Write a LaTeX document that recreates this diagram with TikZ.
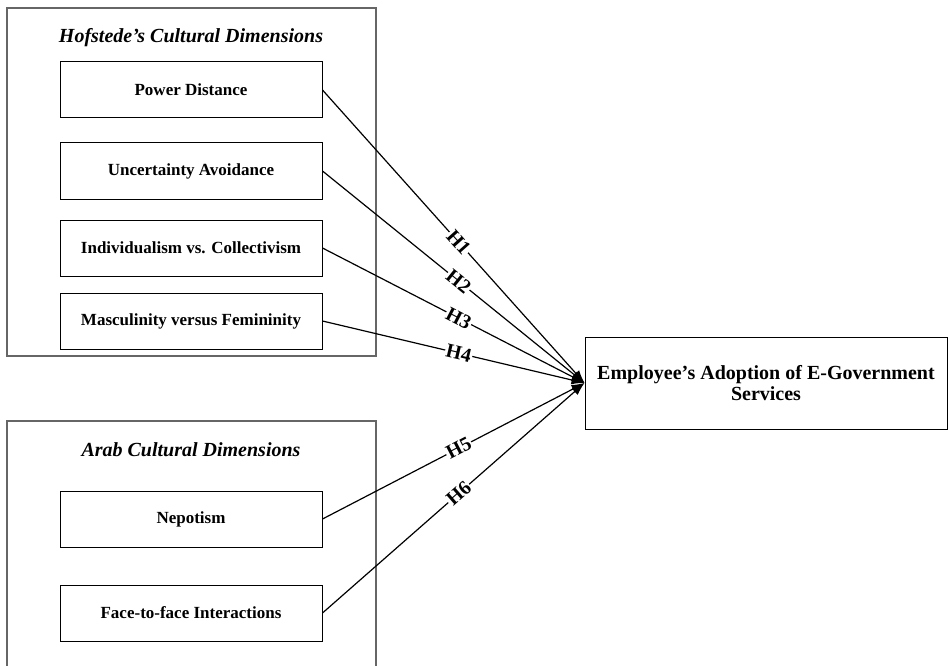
\documentclass[tikz,border=0pt]{standalone}
\usepackage{fontspec}
\setmainfont{Liberation Serif}
\usetikzlibrary{arrows.meta}
\tikzset{
  group/.style={draw=black!60,line width=1.2pt,minimum width=369pt,inner sep=0pt},
  heading/.style={font=\fontsize{20}{24}\selectfont\bfseries\itshape},
  dimension/.style={draw,line width=1pt,minimum width=262pt,minimum height=56pt,font=\fontsize{17}{20}\selectfont\bfseries},
  outcome/.style={draw,line width=1pt,minimum width=362pt,minimum height=92pt,align=center,font=\fontsize{20}{21}\selectfont\bfseries},
  link/.style={line width=1.2pt,-{Latex[length=13pt,width=9pt]}},
  hyp/.style={sloped,pos=0.52,fill=white,inner sep=1pt,font=\fontsize{20}{20}\selectfont\bfseries}
}

\begin{document}
\begin{tikzpicture}[x=1pt,y=-1pt]
      \useasboundingbox (0,0) rectangle (948,666);
      \node[group,minimum height=348pt] (hofstede) at (191.5,182) {};
      \node[group,minimum height=249pt] (arab) at (191.5,545.5) {};
      \node[heading] (hofstedetitle) at (191,38) {Hofstede’s Cultural Dimensions};
      \node[heading] (arabtitle) at (191,450) {Arab Cultural Dimensions};

      \node[dimension] (powerdistance) at (191,90) {Power Distance};
      \node[dimension] (uncertainty) at (191,171) {Uncertainty Avoidance};
      \node[dimension] (individualism) at (191,248) {Individualism vs. Collectivism};
      \node[dimension] (masculinity) at (191,321) {Masculinity versus Femininity};
      \node[dimension] (nepotism) at (191,519) {Nepotism};
      \node[dimension] (facetoface) at (191,613) {Face-to-face Interactions};

      \node[outcome] (adoption) at (766,383) {Employee’s Adoption of E-Government\\Services};

      \draw[link] (powerdistance.east) -- (adoption.west) node[hyp] {H1};
      \draw[link] (uncertainty.east) -- (adoption.west) node[hyp] {H2};
      \draw[link] (individualism.east) -- (adoption.west) node[hyp] {H3};
      \draw[link] (masculinity.east) -- (adoption.west) node[hyp] {H4};
      \draw[link] (nepotism.east) -- (adoption.west) node[hyp] {H5};
      \draw[link] (facetoface.east) -- (adoption.west) node[hyp] {H6};
\end{tikzpicture}
\end{document}
